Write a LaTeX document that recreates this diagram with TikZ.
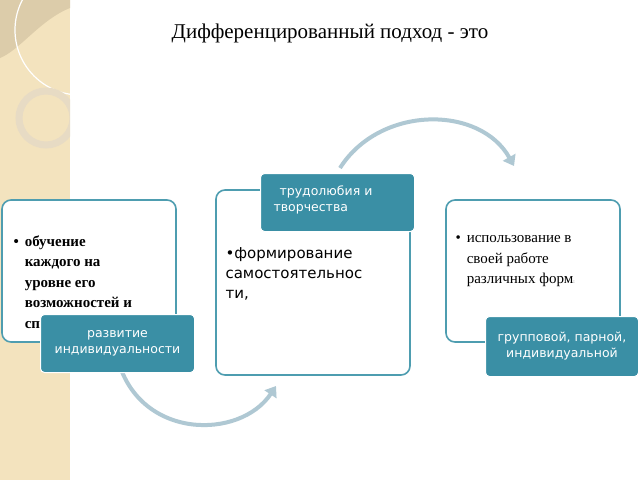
\documentclass[tikz,border=0pt]{standalone}
\usepackage{fontspec}
\setmainfont{Liberation Serif}
\newfontfamily\tagfont{DejaVu Sans}
\usetikzlibrary{arrows.meta}
\definecolor{teal1}{HTML}{3A8FA5}
\definecolor{bord}{HTML}{4E9DB0}
\definecolor{arcc}{HTML}{AFC8D3}
\definecolor{beige}{HTML}{F3E3BE}
\definecolor{beige2}{HTML}{DCCCAA}
\tikzset{
 mainbox/.style={draw=bord,line width=1.6pt,rounded corners=9pt,fill=white},
 tagbox/.style={fill=teal1,draw=white,line width=1pt,rounded corners=4pt,text=white,font=\tagfont\fontsize{12.5}{16}\selectfont,align=center},
 arcline/.style={draw=arcc,line width=4pt,-{Triangle[length=10pt,width=14pt]}},
}
\begin{document}
\begin{tikzpicture}[x=1pt,y=-1pt]
\useasboundingbox (0,0) rectangle (640,480);
\fill[white] (0,0) rectangle (640,480);
% decoration strip
\fill[beige] (0,0) rectangle (70,480);
\begin{scope}
\clip (0,0) rectangle (70,480);
\fill[beige2] (0,0) -- (70,0) -- (70,8) .. controls (40,20) and (20,50) .. (0,58) -- cycle;
\draw[white,line width=1.2pt] (80,30) circle (65);
\draw[beige2!70!white,line width=7pt] (46,118) circle (27);
\end{scope}
% title
\node (title) at (330,33) {\fontsize{21}{24}\selectfont Дифференцированный подход - это};
% arcs
\coordinate (a1) at (340,168);
\coordinate (a2) at (514,166);
\draw[arcline] (a1) .. controls (380,105) and (480,105) .. (a2);
\coordinate (b1) at (118,360);
\coordinate (b2) at (276,386);
\draw[arcline] (b1) .. controls (140,440) and (240,440) .. (b2);
% boxes
\draw[mainbox] (2,200) rectangle (176,342);
\draw[mainbox] (216,190) rectangle (410,375);
\draw[mainbox] (446,200) rectangle (620,342);
\node[anchor=north west,align=left,font=\bfseries\fontsize{15}{20.5}\selectfont] (Lt) at (10,232)
 {\textbullet\hspace{6pt}\parbox[t]{140pt}{обучение\\каждого на\\уровне его\\возможностей и\\способностей}};
\node[anchor=north west,align=left,font=\tagfont\fontsize{15}{20}\selectfont] (Mt) at (222,244)
 {•формирование\\самостоятельнос\\ти,};
\node[anchor=north west,align=left,font=\fontsize{15}{20.5}\selectfont] (Rt) at (452,232)
 {\textbullet\hspace{6pt}\parbox[t]{150pt}{использование в\\своей работе\\различных форм{\tiny:}}};
% tags
\node[tagbox,minimum width=154pt,minimum height=58pt,anchor=north west] (T1) at (260,173) {};
\node[anchor=north west,text=white,font=\tagfont\fontsize{12.5}{16}\selectfont,align=left] at (270,182) {\hspace{6pt}трудолюбия и\\творчества};
\node[tagbox,minimum width=154pt,minimum height=58pt,anchor=north west] (T2) at (40,314) {развитие\\индивидуальности};
\node[tagbox,minimum width=153pt,minimum height=60pt,anchor=north west] (T3) at (485,316) {групповой, парной,\\индивидуальной};
\end{tikzpicture}
\end{document}
